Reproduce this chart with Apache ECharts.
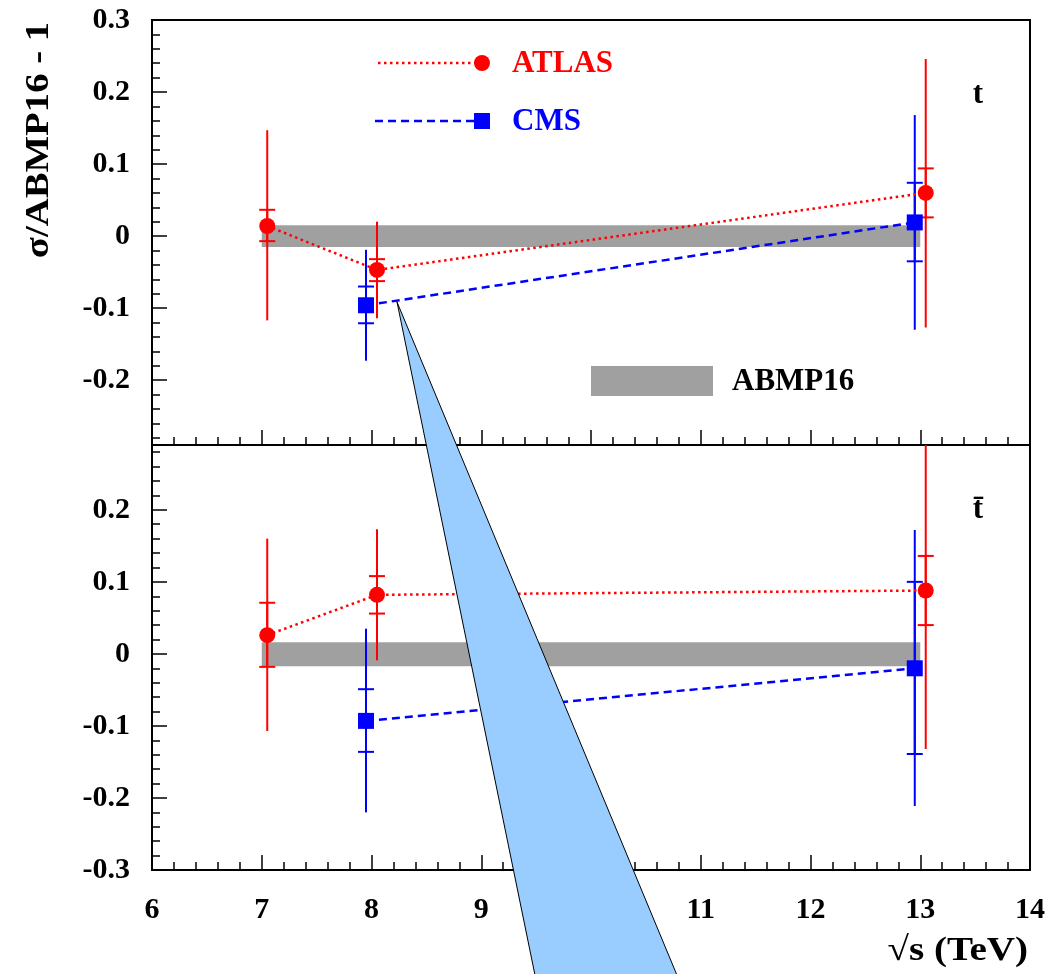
<!DOCTYPE html>
<html>
<head>
<meta charset="utf-8">
<script src="https://cdn.jsdelivr.net/npm/echarts@6/dist/echarts.min.js"></script>
<style>
html,body{margin:0;padding:0;background:#fff;}
#chart{width:1051px;height:974px;}
</style>
</head>
<body>
<div id="chart"></div>
<script>
// ---------- data ----------
const xTickLabels = [6, 7, 8, 9, 10, 11, 12, 13, 14];
const yTicksTop = [-0.2, -0.1, 0, 0.1, 0.2, 0.3];
const yTicksBottom = [-0.3, -0.2, -0.1, 0, 0.1, 0.2];
const yMinorTop = [-0.28,-0.26,-0.24,-0.22,-0.18,-0.16,-0.14,-0.12,-0.08,-0.06,-0.04,-0.02,0.02,0.04,0.06,0.08,0.12,0.14,0.16,0.18,0.22,0.24,0.26,0.28];
const yMinorBottom = [-0.28,-0.26,-0.24,-0.22,-0.18,-0.16,-0.14,-0.12,-0.08,-0.06,-0.04,-0.02,0.02,0.04,0.06,0.08,0.12,0.14,0.16,0.18,0.22,0.24,0.26,0.28];

// top panel (t)
const atlasX = [7.05, 8.05, 13.05];
const cmsX = [7.95, 12.95];
const atlasTopY = [0.014, -0.047, 0.060];
const atlasTopInner = [[-0.007, 0.0365], [-0.0625, -0.032], [0.026, 0.094]];
const atlasTopOuter = [[-0.117, 0.147], [-0.114, 0.020], [-0.127, 0.246]];
const cmsTopY = [-0.096, 0.019];
const cmsTopInner = [[-0.121, -0.070], [-0.035, 0.074]];
const cmsTopOuter = [[-0.173, -0.019], [-0.130, 0.168]];
const bandTop = [7.0, 13.0, -0.015, 0.015];

// bottom panel (tbar)
const atlasBotY = [0.026, 0.082, 0.088];
const atlasBotInner = [[-0.018, 0.071], [0.056, 0.108], [0.040, 0.136]];
const atlasBotOuter = [[-0.107, 0.160], [-0.009, 0.173], [-0.132, 0.30]];
const cmsBotY = [-0.093, -0.020];
const cmsBotInner = [[-0.136, -0.049], [-0.139, 0.100]];
const cmsBotOuter = [[-0.220, 0.035], [-0.211, 0.172]];
const bandBot = [7.0, 13.0, -0.017, 0.016];

// callout shape (annotation overlay, pixel space)
const calloutPts = [[397, 302], [536, 980], [679, 980]];

// ---------- build ----------
const FONT = 'Liberation Serif';
const RED = '#ff0000', BLUE = '#0000ff', GREY = '#a0a0a0';

function errData(xs, inner, outer) {
  const d = [];
  xs.forEach((x, i) => {
    d.push([x, outer[i][0], outer[i][1], 0]);
    d.push([x, inner[i][0], inner[i][1], 1]);
  });
  return d;
}
function pts(xs, ys) { return xs.map((x, i) => [x, ys[i]]); }

function errRender(color) {
  return function (params, api) {
    const x = api.value(0), lo = api.value(1), hi = api.value(2), cap = api.value(3);
    const a = api.coord([x, lo]), b = api.coord([x, hi]);
    const st = { stroke: color, lineWidth: 2 };
    const ch = [{ type: 'line', shape: { x1: a[0], y1: a[1], x2: b[0], y2: b[1] }, style: st }];
    if (cap) {
      ch.push({ type: 'line', shape: { x1: a[0] - 8, y1: a[1], x2: a[0] + 8, y2: a[1] }, style: st });
      ch.push({ type: 'line', shape: { x1: b[0] - 8, y1: b[1], x2: b[0] + 8, y2: b[1] }, style: st });
    }
    return { type: 'group', children: ch };
  };
}
function bandRender(params, api) {
  const p1 = api.coord([api.value(0), api.value(3)]);
  const p2 = api.coord([api.value(1), api.value(2)]);
  return { type: 'rect', shape: { x: p1[0], y: p1[1], width: p2[0] - p1[0], height: p2[1] - p1[1] }, style: { fill: GREY } };
}

const axisLineStyle = { color: '#000', width: 2 };
function xAxisDef(gridIndex, showLabels) {
  return {
    type: 'value', gridIndex, min: 6, max: 14, interval: 1,
    axisLine: { show: true, onZero: false, lineStyle: axisLineStyle },
    axisTick: { show: true, inside: true, length: 15, lineStyle: { color: '#000', width: 1.5 } },
    minorTick: { show: true, splitNumber: 5, length: 8, lineStyle: { color: '#000', width: 1.5 } },
    splitLine: { show: false },
    axisLabel: { show: showLabels, margin: 25, color: '#000', fontFamily: FONT, fontWeight: 'bold', fontSize: 30,
      customValues: xTickLabels, formatter: v => String(v) }
  };
}
function yAxisMain(gridIndex, min, max, ticks) {
  return {
    type: 'value', gridIndex, min, max, position: 'left',
    axisLine: { show: true, onZero: false, lineStyle: axisLineStyle },
    axisTick: { show: true, inside: true, length: 15, customValues: ticks, lineStyle: { color: '#000', width: 1.5 } },
    splitLine: { show: false },
    axisLabel: { show: true, margin: 22, color: '#000', fontFamily: FONT, fontWeight: 'bold', fontSize: 30,
      customValues: ticks, formatter: v => String(Math.round(v * 10) / 10) }
  };
}
function yAxisMinor(gridIndex, min, max, ticks) {
  return {
    type: 'value', gridIndex, min, max, position: 'left', offset: 0,
    axisLine: { show: false, onZero: false },
    axisTick: { show: true, inside: true, length: 8, customValues: ticks, lineStyle: { color: '#000', width: 1.5 } },
    splitLine: { show: false },
    axisLabel: { show: false, customValues: ticks }
  };
}

const series = [];
function panel(xi, yi, band, aY, aIn, aOut, cY, cIn, cOut) {
  series.push({ type: 'custom', xAxisIndex: xi, yAxisIndex: yi, renderItem: bandRender, data: [band], z: 1, silent: true, clip: true });
  series.push({ type: 'custom', xAxisIndex: xi, yAxisIndex: yi, renderItem: errRender(RED), data: errData(atlasX, aIn, aOut), z: 3, clip: true, silent: true });
  series.push({ type: 'custom', xAxisIndex: xi, yAxisIndex: yi, renderItem: errRender(BLUE), data: errData(cmsX, cIn, cOut), z: 3, clip: true, silent: true });
  series.push({ type: 'line', name: 'ATLAS', xAxisIndex: xi, yAxisIndex: yi, data: pts(atlasX, aY),
    symbol: 'circle', symbolSize: 16, itemStyle: { color: RED },
    lineStyle: { color: RED, width: 2.5, type: [2.5, 3.5] }, z: 4, silent: true, animation: false });
  series.push({ type: 'line', name: 'CMS', xAxisIndex: xi, yAxisIndex: yi, data: pts(cmsX, cY),
    symbol: 'rect', symbolSize: 16, itemStyle: { color: BLUE },
    lineStyle: { color: BLUE, width: 2.5, type: [8, 5] }, z: 4, silent: true, animation: false });
}
panel(0, 0, bandTop, atlasTopY, atlasTopInner, atlasTopOuter, cmsTopY, cmsTopInner, cmsTopOuter);
panel(1, 2, bandBot, atlasBotY, atlasBotInner, atlasBotOuter, cmsBotY, cmsBotInner, cmsBotOuter);

const txt = (x, y, text, color, extra) => Object.assign({
  type: 'text', x, y, z: 50,
  style: { text, fill: color, font: 'bold 31px "' + FONT + '"', align: 'left', verticalAlign: 'middle' }
}, extra || {});

const graphic = [
  // legend ATLAS
  { type: 'line', shape: { x1: 378, y1: 63, x2: 476, y2: 63 }, style: { stroke: RED, lineWidth: 2.5, lineDash: [2.5, 3.5] }, z: 50 },
  { type: 'circle', shape: { cx: 482, cy: 63, r: 8 }, style: { fill: RED }, z: 50 },
  txt(512, 64, 'ATLAS', RED),
  // legend CMS
  { type: 'line', shape: { x1: 375, y1: 121, x2: 476, y2: 121 }, style: { stroke: BLUE, lineWidth: 2.5, lineDash: [8, 5] }, z: 50 },
  { type: 'rect', shape: { x: 474, y: 113, width: 16, height: 16 }, style: { fill: BLUE }, z: 50 },
  txt(512, 122, 'CMS', BLUE),
  // legend ABMP16
  { type: 'rect', shape: { x: 591, y: 366, width: 122, height: 30 }, style: { fill: GREY }, z: 50 },
  txt(732, 382, 'ABMP16', '#000'),
  // panel labels
  txt(978, 95, 't', '#000', { style: { text: 't', fill: '#000', font: 'bold 31px "' + FONT + '"', align: 'center', verticalAlign: 'middle' } }),
  txt(978, 510, 't̄', '#000', { style: { text: 't̄', fill: '#000', font: 'bold 31px "' + FONT + '"', align: 'center', verticalAlign: 'middle' } }),
  // axis titles
  { type: 'text', x: 39, y: 140, rotation: Math.PI / 2, scaleX: 1.14, z: 50,
    style: { text: 'σ/ABMP16 - 1', fill: '#000', font: 'bold 34px "' + FONT + '"', align: 'center', verticalAlign: 'middle' } },
  { type: 'text', x: 1028, y: 951, scaleX: 1.15, z: 50,
    style: { text: '√s (TeV)', fill: '#000', font: 'bold 34px "' + FONT + '"', align: 'right', verticalAlign: 'middle' } },
  // callout overlay
  { type: 'polygon', shape: { points: calloutPts }, style: { fill: '#99ccff', stroke: '#000', lineWidth: 1 }, z: 100 }
];

const option = {
  animation: false,
  backgroundColor: '#fff',
  grid: [
    { left: 152, right: 21, top: 20, height: 425, show: true, borderColor: '#000', borderWidth: 2, backgroundColor: 'transparent' },
    { left: 152, right: 21, top: 445, height: 425, show: true, borderColor: '#000', borderWidth: 2, backgroundColor: 'transparent' }
  ],
  xAxis: [xAxisDef(0, false), xAxisDef(1, true)],
  yAxis: [
    yAxisMain(0, -0.29, 0.3, yTicksTop), yAxisMinor(0, -0.29, 0.3, yMinorTop),
    yAxisMain(1, -0.3, 0.29, yTicksBottom), yAxisMinor(1, -0.3, 0.29, yMinorBottom)
  ],
  series,
  graphic
};
const chart = echarts.init(document.getElementById('chart'), null, { renderer: 'canvas' });
chart.setOption(option);
</script>
</body>
</html>
